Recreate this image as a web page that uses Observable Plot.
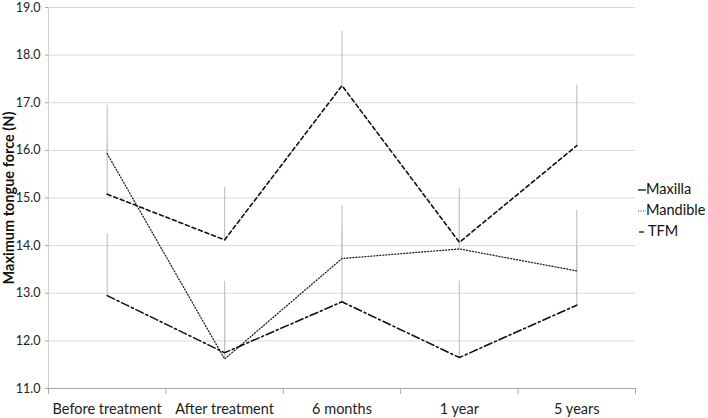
<!DOCTYPE html>
<html>
<head>
<meta charset="utf-8">
<script src="https://cdn.jsdelivr.net/npm/d3@7"></script>
<script src="https://cdn.jsdelivr.net/npm/@observablehq/plot@0.6"></script>
<style>
  body { margin: 0; background: #fff; font-family: Lato, "Open Sans", sans-serif; }
  #wrap { position: relative; width: 708px; height: 418px; }
  #legend { position: absolute; left: 638px; top: 178px; font-size: 14.5px; color: #111; line-height: 21px; }
  #legend svg { vertical-align: middle; }
</style>
</head>
<body>
<div id="wrap">
  <div id="chart"></div>
  <div id="legend"></div>
</div>
<script>
const categories = ["Before treatment", "After treatment", "6 months", "1 year", "5 years"];
const seriesNames = ["Maxilla", "Mandible", "TFM"];
const maxilla = [15.08, 14.12, 17.36, 14.07, 16.10];
const mandible = [15.93, 11.62, 13.73, 13.93, 13.47];
const tfm = [12.95, 11.75, 12.82, 11.65, 12.75];
const maxillaHi = [16.15, 15.22, 18.50, 15.20, 17.37];
const mandibleHi = [16.95, 13.25, 14.84, 15.00, 14.74];
const tfmHi = [14.25, 12.90, 14.30, 13.25, 14.00];
const yTicks = [11, 12, 13, 14, 15, 16, 17, 18, 19];

const styles = {
  Maxilla: { stroke: "#111", strokeWidth: 1.6, dash: "4,3" },
  Mandible: { stroke: "#222", strokeWidth: 1.3, dash: "1,2" },
  TFM: { stroke: "#111", strokeWidth: 1.6, dash: "8,3,2,3" }
};
const values = { Maxilla: maxilla, Mandible: mandible, TFM: tfm };
const highs = { Maxilla: maxillaHi, Mandible: mandibleHi, TFM: tfmHi };

const rows = seriesNames.flatMap(s => categories.map((c, i) => ({
  series: s, x: i + 0.5, y: values[s][i], hi: highs[s][i]
})));

const boundaries = d3.range(categories.length + 1);
const centers = categories.map((c, i) => i + 0.5);

const chart = Plot.plot({
  width: 708,
  height: 418,
  marginLeft: 48,
  marginRight: 73,
  marginTop: 7,
  marginBottom: 30,
  style: { fontFamily: "Lato, 'Open Sans', sans-serif", background: "#fff" },
  x: { type: "linear", domain: [0, categories.length] },
  y: { domain: [11, 19] },
  marks: [
    Plot.ruleY(yTicks.slice(1), { stroke: "#d9d9d9", strokeWidth: 1 }),
    Plot.ruleY([11], { stroke: "#a6a6a6", strokeWidth: 1 }),
    Plot.ruleX([0], { y1: 11, y2: 19, stroke: "#d0d0d0", strokeWidth: 1 }),
    Plot.axisY({ ticks: yTicks, tickFormat: d => d.toFixed(1), tickSize: 3, tickPadding: 5, stroke: "#a6a6a6", fill: "#222", fontSize: 12.5, label: null }),
    Plot.text(["Maximum tongue force (N)"], { frameAnchor: "left", textAnchor: "middle", rotate: -90, dx: -39, fontSize: 14.5, fontWeight: "bold", fill: "#111" }),
    Plot.axisX({ ticks: boundaries, tickFormat: () => "", tickSize: 6, stroke: "#a6a6a6", label: null }),
    Plot.axisX({ ticks: centers, tickFormat: d => categories[Math.round(d - 0.5)], tickSize: 0, tickPadding: 15, fontSize: 14.5, fill: "#222", label: null }),
    Plot.ruleX(rows, { x: "x", y1: "y", y2: "hi", stroke: "#c4c4c4", strokeWidth: 1.2 }),
    ...seriesNames.map(s => Plot.line(rows.filter(r => r.series === s), {
      x: "x", y: "y", stroke: styles[s].stroke, strokeWidth: styles[s].strokeWidth, strokeDasharray: styles[s].dash
    }))
  ]
});
document.getElementById("chart").appendChild(chart);

const legend = document.getElementById("legend");
const glyphs = {
  Maxilla: "<svg width='8' height='10'><line x1='0' y1='5' x2='8' y2='5' stroke='#111' stroke-width='1.3'/></svg>",
  Mandible: "<svg width='8' height='10'><line x1='0' y1='5' x2='8' y2='5' stroke='#333' stroke-width='1' stroke-dasharray='1,1.5'/></svg>",
  TFM: "<svg width='10' height='10'><line x1='1' y1='5' x2='6' y2='5' stroke='#111' stroke-width='1.3'/></svg>"
};
seriesNames.forEach(s => {
  const div = document.createElement("div");
  div.innerHTML = glyphs[s] + s;
  legend.appendChild(div);
});
</script>
</body>
</html>
